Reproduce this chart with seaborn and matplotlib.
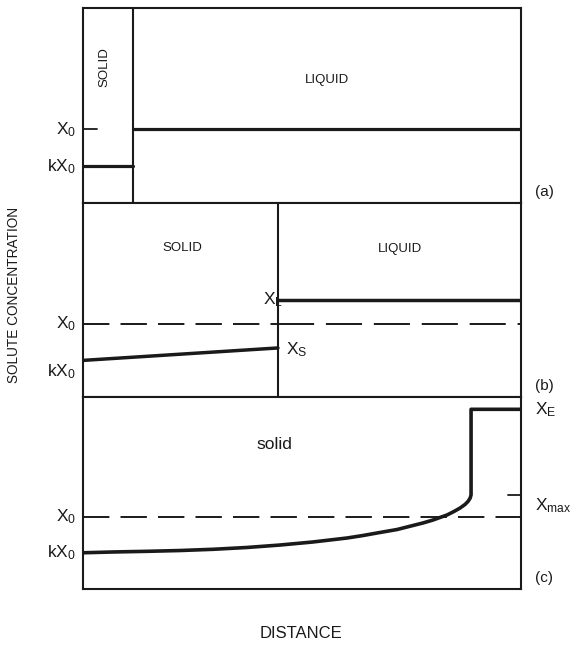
import matplotlib
matplotlib.use("Agg")
import matplotlib.pyplot as plt
import seaborn as sns

sns.set_theme(style="white")
plt.rcParams["font.family"] = ["Liberation Sans", "DejaVu Sans"]
plt.rcParams["mathtext.fontset"] = "custom"
plt.rcParams["mathtext.rm"] = "Liberation Sans"
plt.rcParams["mathtext.it"] = "Liberation Sans:italic"
plt.rcParams["mathtext.bf"] = "Liberation Sans:bold"
plt.rcParams["lines.scale_dashes"] = False
plt.rcParams["lines.solid_joinstyle"] = "round"

INK = "#1a1a1a"

# Concentration levels in relative units (X0 = nominal composition, k = 0.5)
X0 = 1.0
KX0 = 0.5
CONC_TOP = 2.65

# (a) first solid forms at the left end of the bar
interface_a = 0.114

# (b) part way through: sloped solid profile, uniform liquid at XL
interface_b = 0.445
solid_b_dist = [0.0, 0.445]
solid_b_conc = [0.50, 0.67]
XS = 0.67
XL = 1.33

# (c) fully solid: segregation profile up to Xmax, eutectic XE at the end
scheil_dist = [0.0, 0.0685, 0.146, 0.221, 0.297, 0.374, 0.450, 0.525,
               0.603, 0.639, 0.678, 0.717, 0.753, 0.776, 0.799, 0.815,
               0.831, 0.847, 0.861, 0.872, 0.879, 0.884, 0.886]
scheil_conc = [0.50, 0.511, 0.520, 0.531, 0.548, 0.573, 0.607, 0.649,
               0.704, 0.738, 0.780, 0.821, 0.876, 0.911, 0.952, 0.987,
               1.021, 1.070, 1.118, 1.166, 1.208, 1.256, 1.30]
x_eutectic = 0.886
XMAX = 1.30
XE = 2.48

panel_tags = ["(a)", "(b)", "(c)"]


def line(ax, xs, ys, lw, ls="-"):
    sns.lineplot(x=xs, y=ys, ax=ax, sort=False, estimator=None,
                 color=INK, linewidth=lw, linestyle=ls)


def left_label(ax, y, text, size=12.5):
    ax.text(-0.016, y, text, transform=ax.get_yaxis_transform(),
            ha="right", va="center", fontsize=size, color=INK, clip_on=False)


def right_label(ax, y, text, size=12.5):
    ax.text(1.032, y, text, transform=ax.get_yaxis_transform(),
            ha="left", va="center", fontsize=size, color=INK, clip_on=False)


fig = plt.figure(figsize=(5.72, 6.45), dpi=100)
fig.patch.set_facecolor("white")
L, W = 83 / 572, 438 / 572
ax_a = fig.add_axes([L, 1 - 203 / 645, W, 195 / 645])
ax_b = fig.add_axes([L, 1 - 397 / 645, W, 194 / 645])
ax_c = fig.add_axes([L, 1 - 589 / 645, W, 192 / 645])

for ax, tag in zip([ax_a, ax_b, ax_c], panel_tags):
    ax.set_xlim(0, 1)
    ax.set_ylim(0, CONC_TOP)
    ax.set_xticks([])
    ax.set_yticks([])
    ax.set_xlabel("")
    ax.set_ylabel("")
    ax.set_facecolor("white")
    for sp in ax.spines.values():
        sp.set_visible(True)
        sp.set_color(INK)
        sp.set_linewidth(1.5)
    right_label(ax, 0.15, tag, size=11)

dash_short = (0, (19, 8))
dash_long = (0, (26, 8.5))

# ---- (a) ----
ax_a.axvline(interface_a, color=INK, linewidth=1.5)
line(ax_a, [0.0, interface_a], [KX0, KX0], 2.3)
line(ax_a, [interface_a, 1.0], [X0, X0], 2.3)
line(ax_a, [0.0, 0.032], [X0, X0], 1.3)
left_label(ax_a, X0, r"$\mathrm{X_0}$")
left_label(ax_a, KX0, r"$\mathrm{kX_0}$")
ax_a.text(0.048, 1.85, "SOLID", rotation=90, ha="center", va="center",
          fontsize=9.5, color=INK)
ax_a.text(0.557, 1.67, "LIQUID", ha="center", va="center",
          fontsize=9.5, color=INK)

# ---- (b) ----
ax_b.axvline(interface_b, color=INK, linewidth=1.5)
line(ax_b, solid_b_dist, solid_b_conc, 2.5)
line(ax_b, [interface_b, 1.0], [XL, XL], 2.5)
line(ax_b, [0.0, interface_b], [X0, X0], 1.4, dash_short)
line(ax_b, [interface_b, 1.0], [X0, X0], 1.4, dash_long)
left_label(ax_b, X0, r"$\mathrm{X_0}$")
left_label(ax_b, 0.34, r"$\mathrm{kX_0}$")
ax_b.text(interface_b + 0.012, XL, r"$\mathrm{X_L}$", ha="right",
          va="center", fontsize=12.5, color=INK)
ax_b.text(interface_b + 0.018, 0.64, r"$\mathrm{X_S}$", ha="left",
          va="center", fontsize=12.5, color=INK)
ax_b.text(0.226, 2.03, "SOLID", ha="center", va="center",
          fontsize=9.5, color=INK)
ax_b.text(0.724, 2.02, "LIQUID", ha="center", va="center",
          fontsize=9.5, color=INK)

# ---- (c) ----
line(ax_c, [0.0, 1.0], [X0, X0], 1.4, dash_short)
line(ax_c, scheil_dist + [x_eutectic, 1.0],
     scheil_conc + [XE, XE], 2.6)
line(ax_c, [0.97, 1.0], [XMAX, XMAX], 1.3)
left_label(ax_c, X0, r"$\mathrm{X_0}$")
left_label(ax_c, KX0, r"$\mathrm{kX_0}$")
right_label(ax_c, XE, r"$\mathrm{X_E}$")
right_label(ax_c, 1.15, r"$\mathrm{X_{max}}$")
ax_c.text(0.438, 1.99, "solid", ha="center", va="center",
          fontsize=12.5, color=INK)

fig.text(14 / 572, 1 - 295 / 645, "SOLUTE CONCENTRATION", rotation=90,
         ha="center", va="center", fontsize=9.8, color=INK)
fig.text(301 / 572, 1 - 633 / 645, "DISTANCE", ha="center", va="center",
         fontsize=12, color=INK)

fig.savefig("out.png", dpi=100, facecolor="white")
